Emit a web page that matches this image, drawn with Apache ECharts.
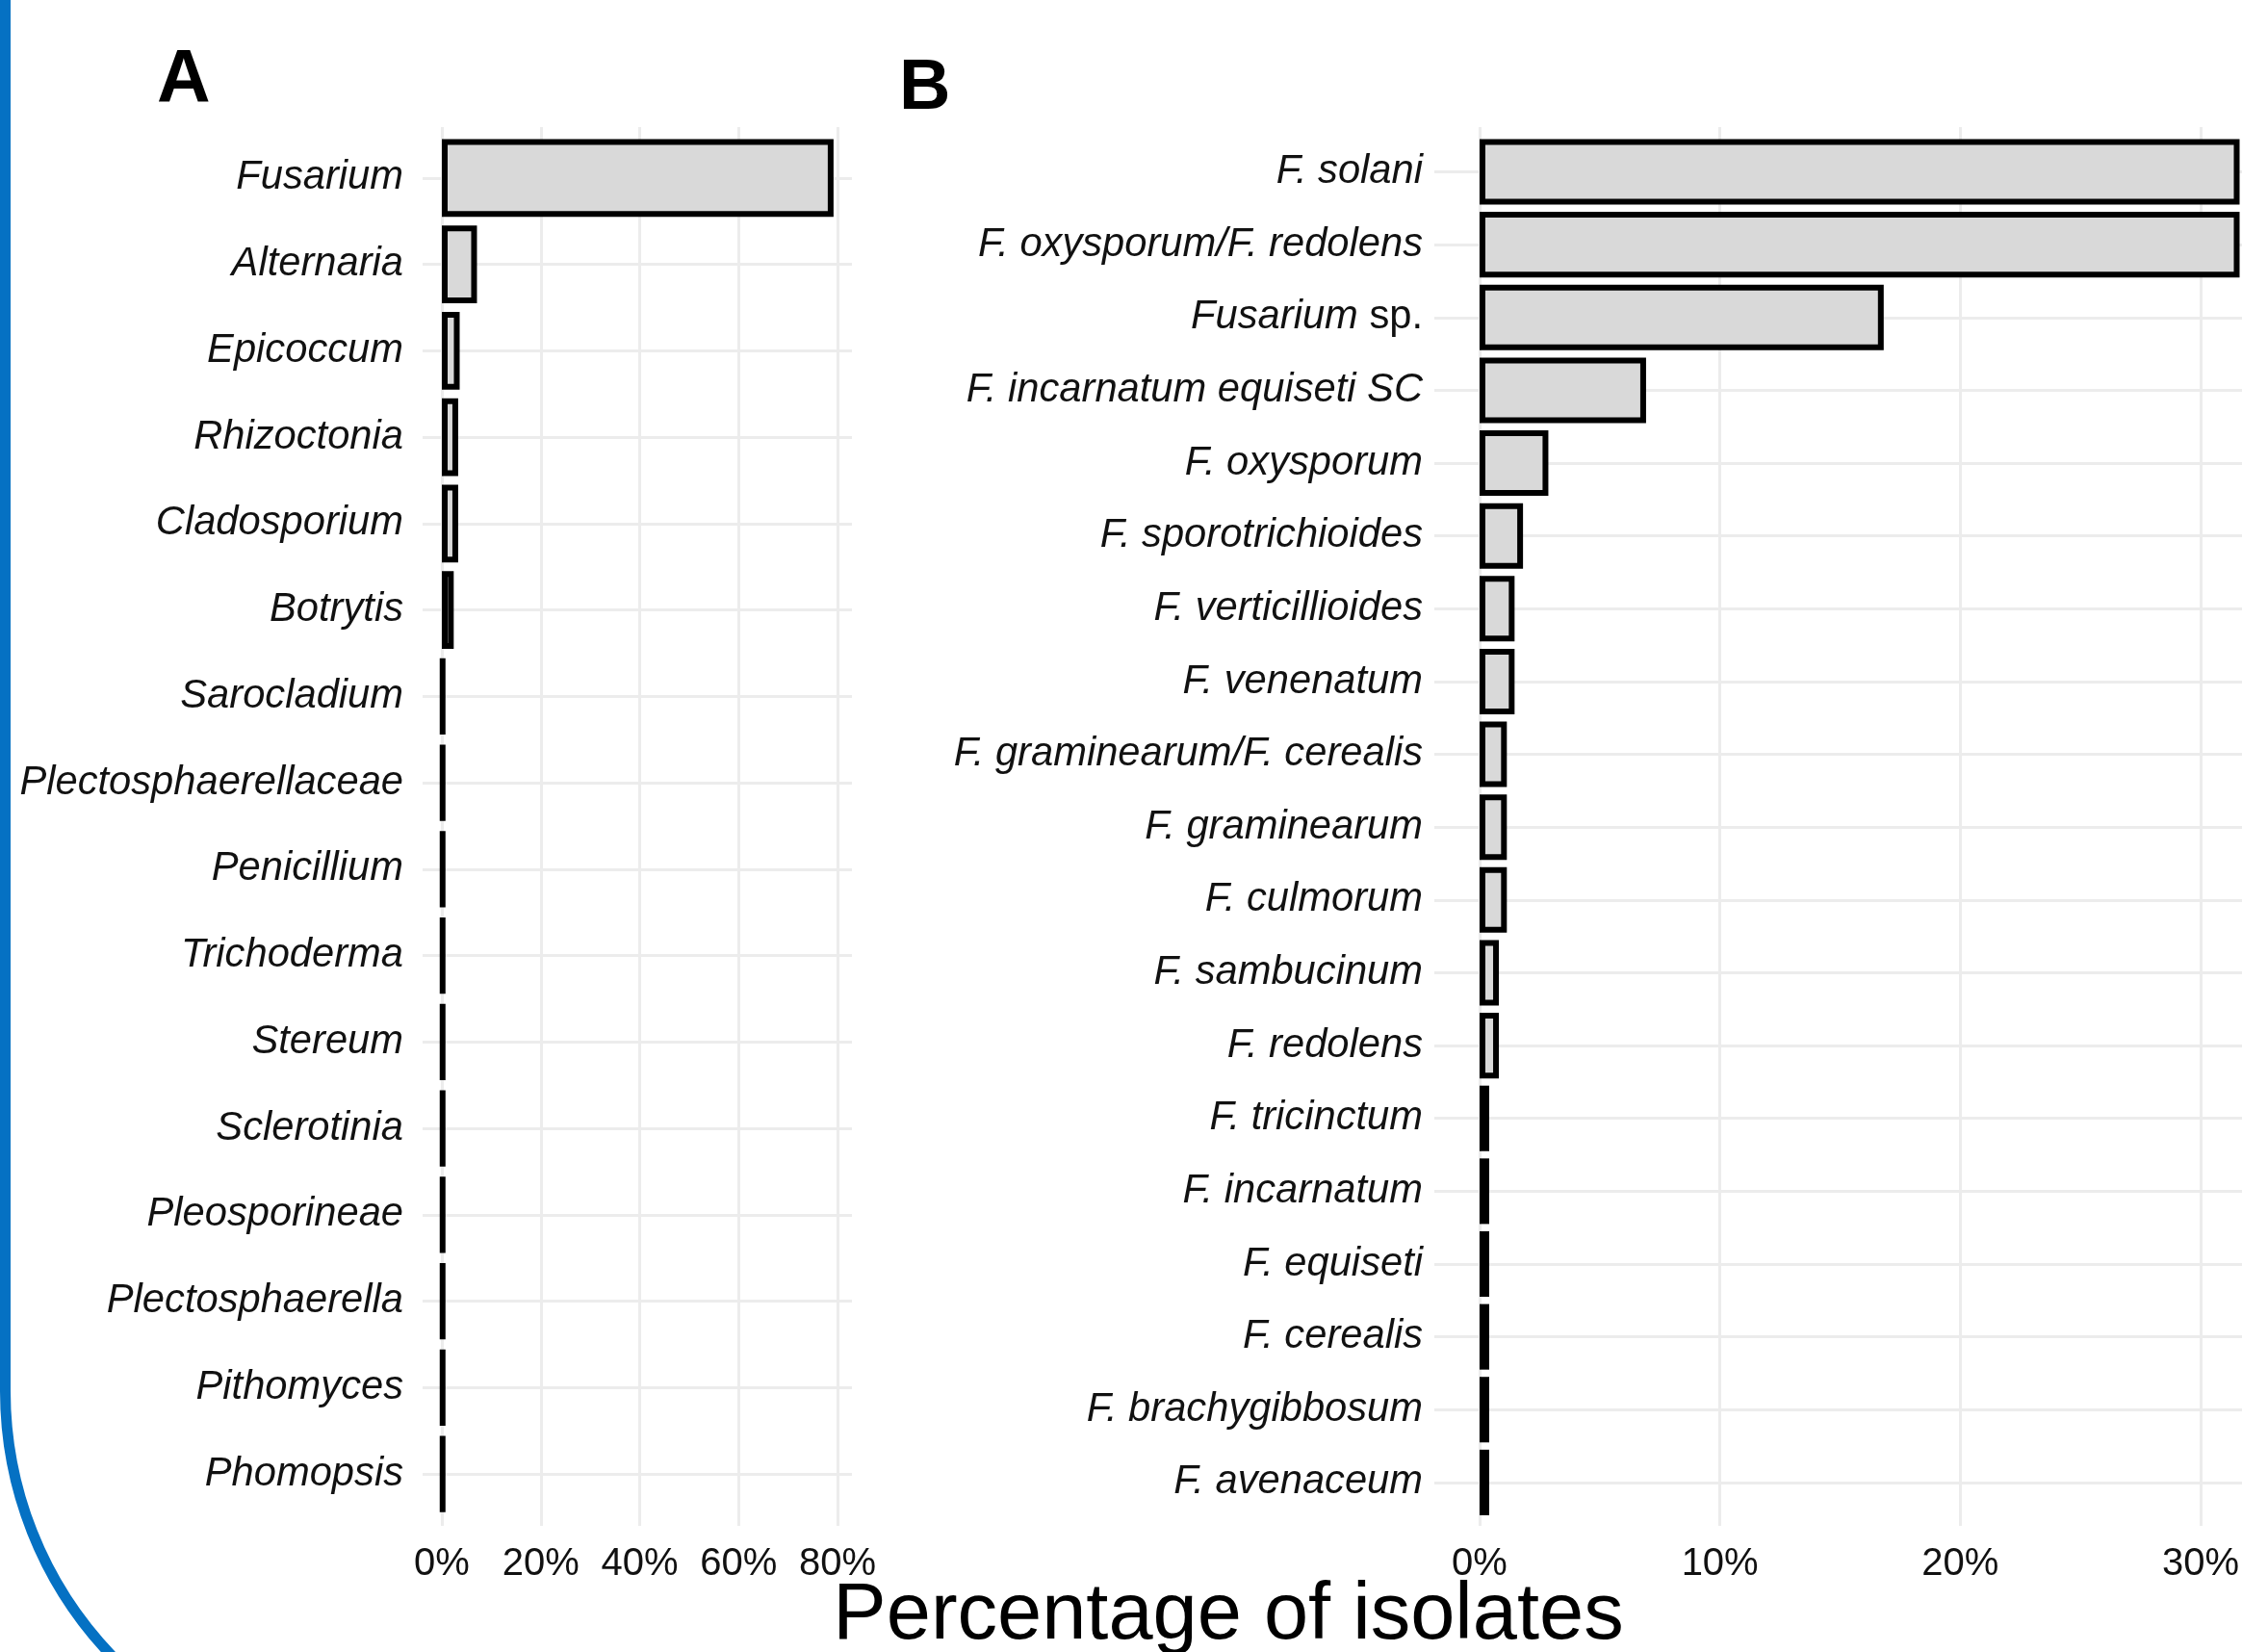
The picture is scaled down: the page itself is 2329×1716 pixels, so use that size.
<!DOCTYPE html>
<html><head><meta charset="utf-8">
<script src="https://cdn.jsdelivr.net/npm/echarts@6/dist/echarts.min.js"></script>
<style>html,body{margin:0;padding:0;background:#fff;overflow:hidden}#c{width:2329px;height:1716px}</style>
</head><body><div id="c"></div>
<script>
// ---- data ----
const genera = ['Fusarium','Alternaria','Epicoccum','Rhizoctonia','Cladosporium','Botrytis','Sarocladium','Plectosphaerellaceae','Penicillium','Trichoderma','Stereum','Sclerotinia','Pleosporineae','Plectosphaerella','Pithomyces','Phomopsis'];
const generaPct = [79.2, 7.1, 3.6, 3.3, 3.3, 2.4, 0.3, 0.3, 0.3, 0.3, 0.3, 0.3, 0.3, 0.3, 0.3, 0.3];
const species = ['F. solani','F. oxysporum/F. redolens','Fusarium sp.','F. incarnatum equiseti SC','F. oxysporum','F. sporotrichioides','F. verticillioides','F. venenatum','F. graminearum/F. cerealis','F. graminearum','F. culmorum','F. sambucinum','F. redolens','F. tricinctum','F. incarnatum','F. equiseti','F. cerealis','F. brachygibbosum','F. avenaceum'];
const speciesPct = [31.5, 31.5, 16.75, 6.9, 2.85, 1.8, 1.45, 1.45, 1.13, 1.13, 1.13, 0.8, 0.8, 0.4, 0.4, 0.4, 0.4, 0.4, 0.4];
const ticksA = [0, 20, 40, 60, 80];
const ticksB = [0, 10, 20, 30];
const panelLabels = ['A', 'B'];
const xTitle = 'Percentage of isolates';

// ---- styles ----
const FONT = '"Liberation Sans", Arial, Helvetica, sans-serif';
const GRID_COLOR = '#ECECEC';
const TXT = '#111';

const chart = echarts.init(document.getElementById('c'), null, {renderer: 'canvas'});

function catLabel(v) {
  if (v === 'Fusarium sp.') return '{i|Fusarium}{n| sp.}';
  return '{i|' + v + '}';
}
const rich = {
  i: {fontStyle: 'italic', fontSize: 41.7, fontFamily: FONT, color: TXT},
  n: {fontStyle: 'normal', fontSize: 41.7, fontFamily: FONT, color: TXT}
};
const hidden = {show: false};
const barStyle = {color: '#D9D9D9', borderColor: '#000', borderWidth: 6};

const option = {
  backgroundColor: '#fff',
  animation: false,
  grid: [
    {left: 459, top: 140, width: 411, height: 1436},      // 0 A bars
    {left: 459, top: 132, width: 411, height: 1453},      // 1 A vertical grid + labels
    {left: 439, top: 140, width: 446, height: 1436},      // 2 A horizontal grid
    {left: 1537, top: 140.7, width: 792, height: 1437},   // 3 B bars
    {left: 1537, top: 132, width: 751.8, height: 1453},   // 4 B vertical grid + labels
    {left: 1490, top: 140.7, width: 839, height: 1437}    // 5 B horizontal grid
  ],
  xAxis: [
    {gridIndex: 0, type: 'value', min: ticksA[0], max: ticksA[ticksA.length-1], show: false, splitLine: hidden},
    {gridIndex: 1, type: 'value', min: ticksA[0], max: ticksA[ticksA.length-1], interval: 20,
      axisLine: hidden, axisTick: hidden,
      splitLine: {show: true, lineStyle: {color: GRID_COLOR, width: 3}},
      axisLabel: {margin: 20, fontSize: 40, fontFamily: FONT, color: TXT, formatter: v => ticksA.includes(v) ? v + '%' : ''}},
    {gridIndex: 2, type: 'value', min: 0, max: 1, show: false, splitLine: hidden},
    {gridIndex: 3, type: 'value', min: 0, max: 31.6, show: false, splitLine: hidden},
    {gridIndex: 4, type: 'value', min: ticksB[0], max: ticksB[ticksB.length-1], interval: 10,
      axisLine: hidden, axisTick: hidden,
      splitLine: {show: true, lineStyle: {color: GRID_COLOR, width: 3}},
      axisLabel: {margin: 20, fontSize: 40, fontFamily: FONT, color: TXT, formatter: v => ticksB.includes(v) ? v + '%' : ''}},
    {gridIndex: 5, type: 'value', min: 0, max: 1, show: false, splitLine: hidden}
  ],
  yAxis: [
    {gridIndex: 0, type: 'category', data: genera, inverse: true,
      axisLine: hidden, axisTick: hidden, splitLine: hidden,
      axisLabel: {margin: 40, formatter: catLabel, rich: rich}},
    {gridIndex: 1, type: 'value', show: false, splitLine: hidden},
    {gridIndex: 2, type: 'category', data: genera, inverse: true,
      axisLine: hidden, axisTick: hidden, axisLabel: hidden,
      splitLine: {show: true, alignWithLabel: true, lineStyle: {color: GRID_COLOR, width: 3}}},
    {gridIndex: 3, type: 'category', data: species, inverse: true,
      axisLine: hidden, axisTick: hidden, splitLine: hidden,
      axisLabel: {margin: 59, formatter: catLabel, rich: rich}},
    {gridIndex: 4, type: 'value', show: false, splitLine: hidden},
    {gridIndex: 5, type: 'category', data: species, inverse: true,
      axisLine: hidden, axisTick: hidden, axisLabel: hidden,
      splitLine: {show: true, alignWithLabel: true, lineStyle: {color: GRID_COLOR, width: 3}}}
  ],
  series: [
    {type: 'bar', xAxisIndex: 0, yAxisIndex: 0, data: generaPct, barCategoryGap: '10%', z: 5, itemStyle: barStyle},
    {type: 'bar', xAxisIndex: 3, yAxisIndex: 3, data: speciesPct, barCategoryGap: '10%', z: 5, itemStyle: barStyle}
  ],
  graphic: [
    {type: 'rect', z: 100, silent: true,
      shape: {x: 5.5, y: -600, width: 4000, height: 2442, r: 397},
      style: {fill: 'none', stroke: '#0571C3', lineWidth: 11}},
    {type: 'text', left: 163, top: 46, z: 50,
      style: {text: panelLabels[0], font: 'bold 77px ' + FONT, fill: '#000'}},
    {type: 'text', left: 934, top: 56, z: 50,
      style: {text: panelLabels[1], font: 'bold 74px ' + FONT, fill: '#000'}},
    {type: 'text', z: 50, x: 1276, y: 1679,
      style: {text: xTitle, font: '83px ' + FONT, fill: '#000', align: 'center', verticalAlign: 'middle'}}
  ]
};
chart.setOption(option);
</script>
</body></html>
